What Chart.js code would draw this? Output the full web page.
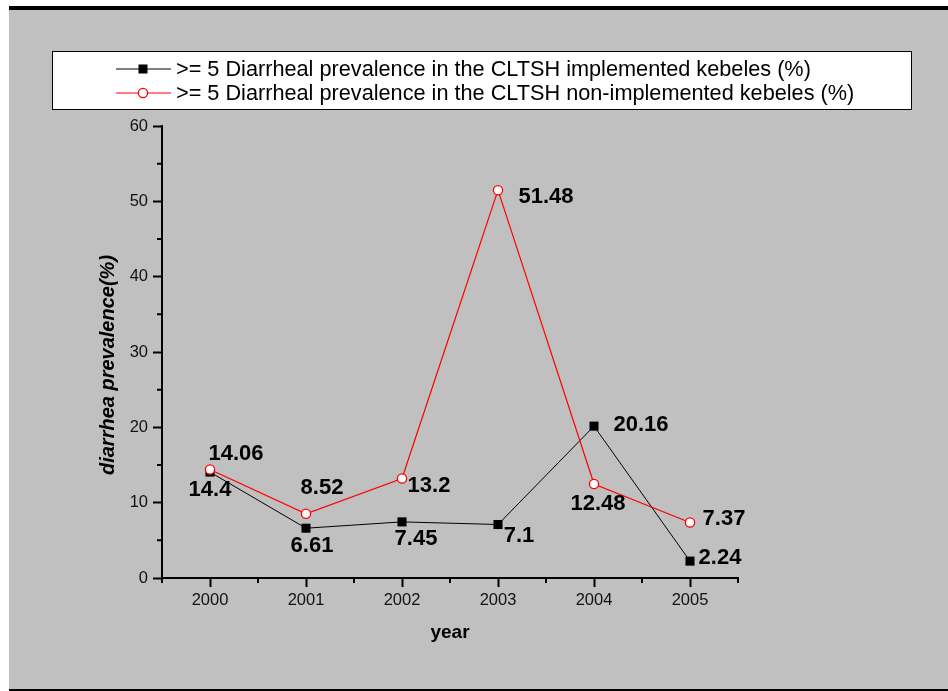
<!DOCTYPE html>
<html>
<head>
<meta charset="utf-8">
<title>Diarrheal prevalence</title>
<script src="https://cdn.jsdelivr.net/npm/chart.js@4.4.0/dist/chart.umd.min.js"></script>
<style>
  html, body { margin: 0; padding: 0; background: #fff; }
  canvas { display: block; }
</style>
</head>
<body>
<canvas id="prevChart" width="948" height="691"></canvas>
<script>
const years = [2000, 2001, 2002, 2003, 2004, 2005];
const implemented = [14.06, 6.61, 7.45, 7.1, 20.16, 2.24];
const nonImplemented = [14.4, 8.52, 13.2, 51.48, 12.48, 7.37];
const implementedLabel = ">= 5 Diarrheal prevalence in the CLTSH implemented kebeles (%)";
const nonImplementedLabel = ">= 5 Diarrheal prevalence in the CLTSH non-implemented kebeles (%)";
const yTitle = "diarrhea prevalence(%)";

// where each value label sits relative to its point (px), per dataset
const labelOffsets = [
  [[26, -18], [6, 18], [14, 17], [21, 11], [47, -1], [30, -3]],
  [[0, 20], [16, -26], [27, 7], [48, 7], [4, 20], [34, -4]],
];

const FONT = "'Liberation Sans', Arial, sans-serif";
Chart.defaults.font.family = FONT;

// grey page with the black rules top and bottom
const framePlugin = {
  id: "frame",
  beforeDraw(chart) {
    const ctx = chart.ctx;
    ctx.save();
    ctx.fillStyle = "#fff";
    ctx.fillRect(0, 0, chart.width, chart.height);
    ctx.fillStyle = "#c0c0c0";
    ctx.fillRect(9, 10, chart.width - 9, 679);
    ctx.fillStyle = "#000";
    ctx.fillRect(9, 6, chart.width - 9, 4);
    ctx.fillRect(9, 689, chart.width - 9, 2);
    ctx.restore();
  },
};

// half-step ticks on both axes, plus the y title (sits a bit below centre)
const axisExtras = {
  id: "axisExtras",
  afterDraw(chart) {
    const { ctx, chartArea, scales } = chart;
    ctx.save();
    ctx.strokeStyle = "#000";
    ctx.lineWidth = 2;
    ctx.beginPath();
    for (let v = years[0] - 0.5; v <= years[years.length - 1] + 0.5; v += 1) {
      const px = scales.x.getPixelForValue(v);
      ctx.moveTo(px, chartArea.bottom);
      ctx.lineTo(px, chartArea.bottom + 5);
    }
    for (let v = 5; v < 60; v += 10) {
      const py = scales.y.getPixelForValue(v);
      ctx.moveTo(chartArea.left, py);
      ctx.lineTo(chartArea.left - 5, py);
    }
    ctx.stroke();

    ctx.translate(108, (chartArea.top + chartArea.bottom) / 2 + 13);
    ctx.rotate(-Math.PI / 2);
    ctx.font = "italic bold 20px " + FONT;
    ctx.fillStyle = "#000";
    ctx.textAlign = "center";
    ctx.textBaseline = "middle";
    ctx.fillText(yTitle, 0, 0);
    ctx.restore();
  },
};

const valueLabels = {
  id: "valueLabels",
  afterDatasetsDraw(chart) {
    const ctx = chart.ctx;
    ctx.save();
    ctx.font = "bold 22px " + FONT;
    ctx.fillStyle = "#000";
    ctx.textAlign = "center";
    ctx.textBaseline = "middle";
    chart.data.datasets.forEach((ds, i) => {
      chart.getDatasetMeta(i).data.forEach((pt, j) => {
        const [dx, dy] = labelOffsets[i][j];
        ctx.fillText(String(ds.data[j].y), pt.x + dx, pt.y + dy);
      });
    });
    ctx.restore();
  },
};

// boxed legend like the original
const boxLegend = {
  id: "boxLegend",
  afterDraw(chart) {
    const ctx = chart.ctx;
    ctx.save();
    ctx.fillStyle = "#fff";
    ctx.fillRect(52.5, 51.5, 859, 58);
    ctx.strokeStyle = "#000";
    ctx.lineWidth = 1;
    ctx.strokeRect(52.5, 51.5, 859, 58);
    const rows = [69, 93];
    chart.data.datasets.forEach((ds, i) => {
      const yy = rows[i];
      ctx.strokeStyle = ds.borderColor;
      ctx.lineWidth = ds.borderWidth;
      ctx.beginPath();
      ctx.moveTo(116, yy);
      ctx.lineTo(171, yy);
      ctx.stroke();
      if (ds.pointStyle === "rect") {
        ctx.fillStyle = ds.pointBackgroundColor;
        ctx.fillRect(138.5, yy - 4.5, 9, 9);
      } else {
        ctx.beginPath();
        ctx.arc(143, yy, ds.pointRadius, 0, Math.PI * 2);
        ctx.fillStyle = ds.pointBackgroundColor;
        ctx.fill();
        ctx.lineWidth = ds.pointBorderWidth;
        ctx.strokeStyle = ds.pointBorderColor;
        ctx.stroke();
      }
      ctx.fillStyle = "#000";
      ctx.font = "21.7px " + FONT;
      ctx.textBaseline = "middle";
      ctx.fillText(ds.label, 176, yy + 1);
    });
    ctx.restore();
  },
};

const ctx = document.getElementById("prevChart").getContext("2d");
new Chart(ctx, {
  type: "line",
  data: {
    datasets: [
      {
        label: implementedLabel,
        data: implemented.map((v, i) => ({ x: years[i], y: v })),
        borderColor: "#000",
        borderWidth: 1,
        pointStyle: "rect",
        pointRadius: 6.4,
        pointBackgroundColor: "#000",
        pointBorderColor: "#000",
        pointBorderWidth: 0,
        order: 1,
      },
      {
        label: nonImplementedLabel,
        data: nonImplemented.map((v, i) => ({ x: years[i], y: v })),
        borderColor: "#ff0000",
        borderWidth: 1.2,
        pointStyle: "circle",
        pointRadius: 4.6,
        pointBackgroundColor: "#fff",
        pointBorderColor: "#ff0000",
        pointBorderWidth: 1.3,
        order: 0,
      },
    ],
  },
  options: {
    responsive: false,
    animation: false,
    layout: { padding: { top: 126, right: 210, bottom: 0, left: 0 } },
    scales: {
      x: {
        type: "linear",
        min: 1999.5,
        max: 2005.5,
        afterBuildTicks: (axis) => {
          axis.ticks = years.map((v) => ({ value: v }));
        },
        afterFit: (axis) => {
          axis.height = 113;
        },
        ticks: {
          autoSkip: false,
          maxRotation: 0,
          padding: 4,
          color: "#111",
          font: { size: 16.5 },
          callback: (v) => String(v),
        },
        grid: {
          drawOnChartArea: false,
          tickLength: 9,
          tickWidth: 2,
          tickColor: "#000",
        },
        border: { color: "#000", width: 2 },
        title: {
          display: true,
          text: "year",
          color: "#000",
          font: { size: 19, weight: "bold" },
          padding: { top: 0, bottom: 47 },
        },
      },
      y: {
        min: 0,
        max: 60,
        ticks: {
          stepSize: 10,
          padding: 5,
          color: "#111",
          font: { size: 16.5 },
        },
        afterFit: (axis) => {
          axis.width = 162;
        },
        grid: {
          drawOnChartArea: false,
          tickLength: 9,
          tickWidth: 2,
          tickColor: "#000",
        },
        border: { color: "#000", width: 2 },
      },
    },
    plugins: {
      legend: { display: false },
      tooltip: { enabled: false },
    },
  },
  plugins: [framePlugin, axisExtras, valueLabels, boxLegend],
});
</script>
</body>
</html>
